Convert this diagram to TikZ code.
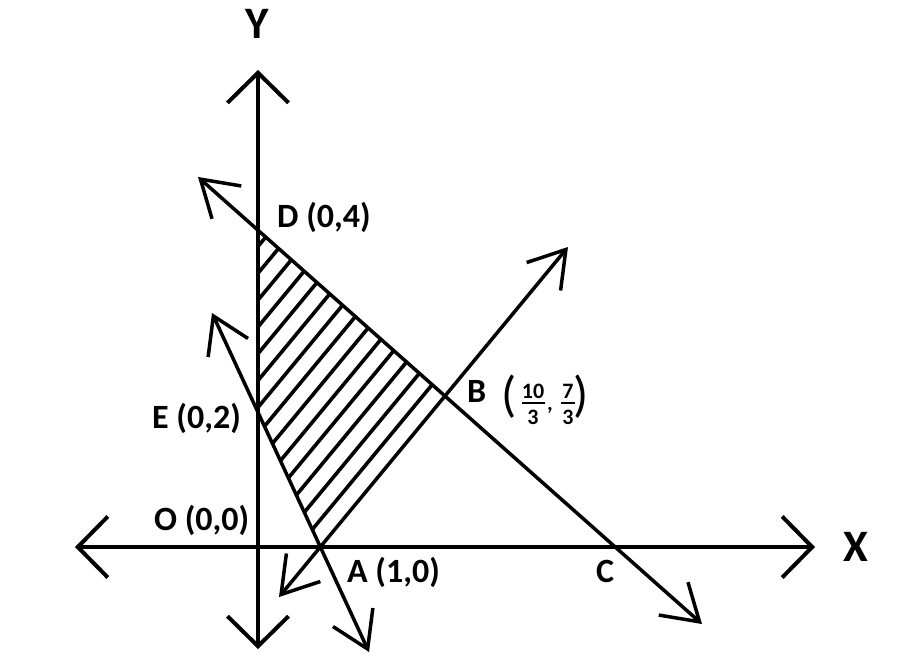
\documentclass[tikz,border=0pt]{standalone}
\usepackage{fontspec}
\setmainfont{Carlito}
\usetikzlibrary{arrows.meta}
\tikzset{
  ax/.style={line width=4pt, arrows={Straight Barb[length=30pt,width=61pt]-Straight Barb[length=30pt,width=61pt]}},
  ln/.style={line width=3.5pt, arrows={Straight Barb[length=35pt,width=44pt]-Straight Barb[length=35pt,width=44pt]}},
  hatchline/.style={line width=3.6pt},
  fbar/.style={line width=2.5pt},
  lbl/.style={inner sep=0pt, font=\fontsize{34}{36}\selectfont\bfseries},
  axl/.style={inner sep=0pt, font=\fontsize{45}{50}\selectfont\bfseries},
  frl/.style={inner sep=0pt, font=\fontsize{22}{24}\selectfont\bfseries},
  parl/.style={inner sep=0pt, font=\fontsize{50}{52}\selectfont},
}
\begin{document}
\begin{tikzpicture}[x=1pt,y=-1pt]
\useasboundingbox (0,0) rectangle (900,672);
% key points
\coordinate (O) at (258,547);
\coordinate (D) at (258,230);
\coordinate (E) at (258,413);
\coordinate (A) at (320,547);
\coordinate (B) at (445,396);
\coordinate (C) at (615,547);
% line ends
\coordinate (xl) at (75,547);
\coordinate (xr) at (815,547);
\coordinate (yt) at (258,70);
\coordinate (yb) at (258,649);
\coordinate (dc1) at (198,177);
\coordinate (dc2) at (702,624);
\coordinate (ab1) at (279,597);
\coordinate (ab2) at (568,247);
\coordinate (ea1) at (212,313);
\coordinate (ea2) at (369,652);
% hatching
\begin{scope}
  \clip (D) -- (B) -- (A) -- (E) -- cycle;
  \foreach \k in {1,...,14}{
    \draw[hatchline] ({320-22.2*\k},547) ++(-250,302) -- ++(700,-845.6);
  }
\end{scope}
% axes
\draw[ax] (xl) -- (xr);
\draw[ax] (yt) -- (yb);
% lines
\draw[ln] (dc1) -- (dc2);
\draw[ln] (ab1) -- (ab2);
\draw[ln] (ea1) -- (ea2);
% labels
\node[axl] (nY) at (257,24) {Y};
\node[axl] (nX) at (856,547) {X};
\node[lbl, anchor=base west] (lD) at (277,227) {D (0,4)};
\node[lbl, anchor=base west] (lE) at (152,428) {E (0,2)};
\node[lbl, anchor=base west] (lO) at (154,530) {O (0,0)};
\node[lbl, anchor=base west] (lA) at (347,582) {A (1,0)};
\node[lbl, anchor=base west] (lC) at (596,582) {C};
\node[lbl, anchor=base west] (lB) at (467,402) {B};
\node[parl] (bo) at (509,397) {(};
\node[frl] (n10) at (533,391.5) {10};
\node[frl] (d3a) at (533,417.5) {3};
\coordinate (f1a) at (522,403);
\coordinate (f1b) at (545,403);
\draw[fbar] (f1a) -- (f1b);
\node[frl, anchor=base west] (cm) at (547,410) {,};
\node[frl] (n7) at (568,391.5) {7};
\node[frl] (d3b) at (568,417.5) {3};
\coordinate (f2a) at (561,403);
\coordinate (f2b) at (575,403);
\draw[fbar] (f2a) -- (f2b);
\node[parl] (bc) at (581,397) {)};
\end{tikzpicture}
\end{document}
